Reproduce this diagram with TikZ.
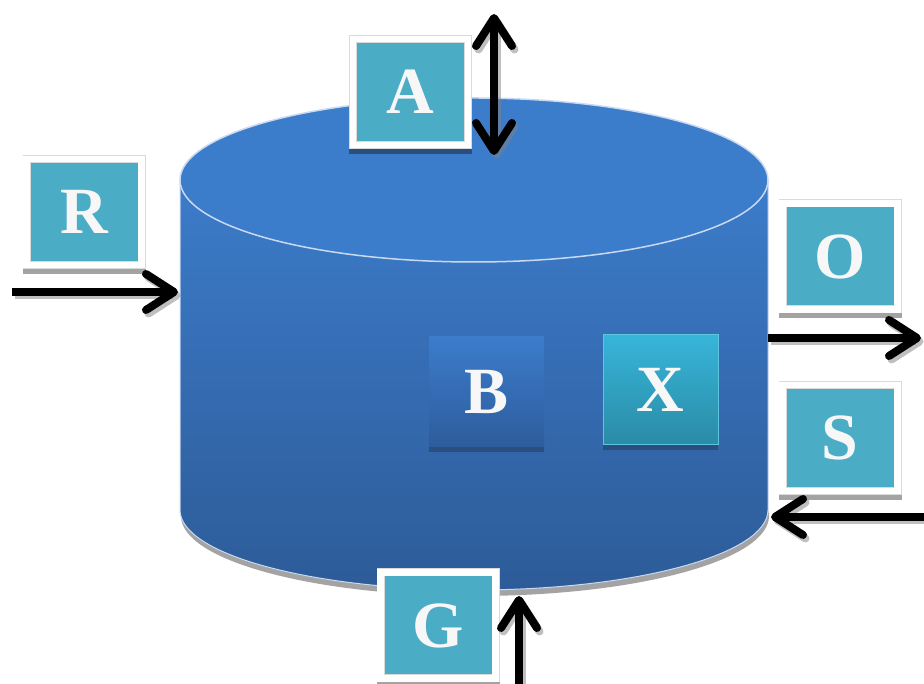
\documentclass[tikz,border=0pt]{standalone}
\usepackage{fontspec}
\setmainfont{Liberation Serif}
\usetikzlibrary{arrows.meta}
\definecolor{tealbox}{HTML}{4BACC6}
\definecolor{cyltop}{HTML}{3C7CCA}
\definecolor{cylbot}{HTML}{2D5B98}
\definecolor{cylcap}{HTML}{3C7DCB}
\definecolor{rimcol}{HTML}{C9D9F1}
\definecolor{darkshadow}{HTML}{2A4E7E}
\definecolor{lightshadow}{HTML}{A3A3A3}
\definecolor{framerim}{HTML}{DADADA}
\definecolor{lettercol}{HTML}{F7F7F7}
\definecolor{btop}{HTML}{3B7CCB}
\definecolor{bbot}{HTML}{2E5C9C}
\definecolor{xtop}{HTML}{37B5D9}
\definecolor{xbot}{HTML}{2A8BA6}
\definecolor{xrim}{HTML}{5EC4DF}
\tikzset{
  letter/.style={text=lettercol, font=\fontsize{66}{66}\selectfont\bfseries},
  framedbox/.style={letter, fill=tealbox, draw=framerim, line width=0.8pt,
     double=white, double distance=6.4pt,
     minimum width=115pt, minimum height=106pt, inner sep=0pt,
     preaction={draw=#1, fill=#1, line width=8pt, transform canvas={yshift=-5pt}}},
  plainbox/.style={letter, minimum width=115pt, minimum height=110pt, inner sep=0pt,
     preaction={fill=darkshadow, transform canvas={yshift=-5pt}}},
  flow/.style={line width=8pt, black, -{Straight Barb[length=28pt, width=36pt, round]}},
  flowboth/.style={line width=8pt, black, {Straight Barb[length=28pt, width=36pt, round]}-{Straight Barb[length=28pt, width=36pt, round]}},
  flowshadow/.style={gray, opacity=0.5, transform canvas={xshift=2.5pt, yshift=-3.5pt}}
}
\begin{document}
\begin{tikzpicture}[x=1pt,y=1pt]
\useasboundingbox (0,0) rectangle (924,684);
% cylinder
\fill[lightshadow] (475,168) ellipse [x radius=294, y radius=80];
\shade[top color=cyltop, bottom color=cylbot]
  (180,504) -- (180,174) arc[start angle=180, end angle=360, x radius=294, y radius=80] -- (768,504) -- cycle;
\draw[rimcol, line width=1pt]
  (180,504) -- (180,174) arc[start angle=180, end angle=360, x radius=294, y radius=80] -- (768,504);
\fill[cylcap] (474,504) ellipse [x radius=294, y radius=82];
\draw[rimcol, line width=1.5pt] (474,504) ellipse [x radius=294, y radius=82];
% boxes
\node[framedbox=darkshadow] (A) at (410.5,592) {A};
\node[framedbox=lightshadow] (R) at (84,472) {R};
\node[framedbox=lightshadow] (O) at (840,427.5) {O};
\node[framedbox=lightshadow] (S) at (840,246) {S};
\node[framedbox=lightshadow] (G) at (438,58.5) {G};
\node[plainbox, top color=btop, bottom color=bbot] (B) at (486.5,292) {B};
\node[plainbox, top color=xtop, bottom color=xbot, draw=xrim, line width=1pt] (X) at (660.5,294) {X};
% connector ends
\coordinate (a1) at (494,529);
\coordinate (a2) at (494,670);
\coordinate (r1) at (12,392);
\coordinate (r2) at (178,392);
\coordinate (o1) at (768,346);
\coordinate (o2) at (921,346);
\coordinate (s1) at (926,167);
\coordinate (s2) at (771,167);
\coordinate (g1) at (519,-5);
\coordinate (g2) at (519,88);
% arrow shadows
\draw[flowboth, flowshadow] (a1) -- (a2);
\draw[flow, flowshadow] (r1) -- (r2);
\draw[flow, flowshadow] (o1) -- (o2);
\draw[flow, flowshadow] (s1) -- (s2);
\draw[flow, flowshadow] (g1) -- (g2);
% arrows
\draw[flowboth] (a1) -- (a2);
\draw[flow] (r1) -- (r2);
\draw[flow] (o1) -- (o2);
\draw[flow] (s1) -- (s2);
\draw[flow] (g1) -- (g2);
\end{tikzpicture}
\end{document}
